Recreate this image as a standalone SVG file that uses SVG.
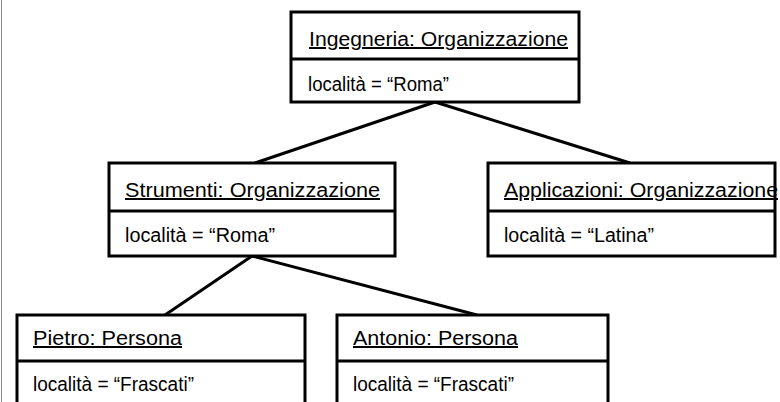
<svg xmlns="http://www.w3.org/2000/svg" width="780" height="402" viewBox="0 0 780 402">
  <style>
    .box { fill: #ffffff; stroke: #000000; stroke-width: 3; }
    .sep { stroke: #000000; stroke-width: 3; }
    .link { stroke: #000000; stroke-width: 3; fill: none; }
    .name { font-family: "Liberation Sans", Arial, sans-serif; font-size: 20px; fill: #000000; text-decoration: underline; }
    .attr { font-family: "Liberation Sans", Arial, sans-serif; font-size: 20px; fill: #000000; }
  </style>

  <rect x="0" y="0" width="780" height="402" fill="#ffffff"/>
  <!-- page frame edge -->
  <line x1="1.5" y1="0" x2="1.5" y2="402" stroke="#8c8c8c" stroke-width="1"/>

  <!-- object links -->
  <g id="connectors">
    <line class="link" x1="435" y1="102" x2="255" y2="163"/>
    <line class="link" x1="435" y1="102" x2="630" y2="163"/>
    <line class="link" x1="252" y1="256" x2="165" y2="315"/>
    <line class="link" x1="252" y1="256" x2="477" y2="315"/>
  </g>

  <g id="ingegneria">
    <rect class="box" x="291" y="12" width="288" height="90"/>
    <line class="sep" x1="291" y1="59" x2="579" y2="59"/>
    <text class="name" x="309" y="46" textLength="259" lengthAdjust="spacingAndGlyphs">Ingegneria: Organizzazione</text>
    <text class="attr" x="308" y="91" textLength="141" lengthAdjust="spacingAndGlyphs">località = “Roma”</text>
  </g>

  <g id="strumenti">
    <rect class="box" x="109" y="163" width="286" height="93"/>
    <line class="sep" x1="109" y1="211" x2="395" y2="211"/>
    <text class="name" x="125" y="197" textLength="255" lengthAdjust="spacingAndGlyphs">Strumenti: Organizzazione</text>
    <text class="attr" x="125" y="242" textLength="150" lengthAdjust="spacingAndGlyphs">località = “Roma”</text>
  </g>

  <g id="applicazioni">
    <rect class="box" x="488" y="163" width="287" height="93"/>
    <line class="sep" x1="488" y1="211" x2="775" y2="211"/>
    <text class="name" x="504" y="197" textLength="274" lengthAdjust="spacingAndGlyphs">Applicazioni: Organizzazione</text>
    <text class="attr" x="504" y="242" textLength="150" lengthAdjust="spacingAndGlyphs">località = “Latina”</text>
  </g>

  <g id="pietro">
    <rect class="box" x="17" y="315" width="288" height="110"/>
    <line class="sep" x1="17" y1="361" x2="305" y2="361"/>
    <text class="name" x="33" y="345" textLength="149" lengthAdjust="spacingAndGlyphs">Pietro: Persona</text>
    <text class="attr" x="33" y="391" textLength="161" lengthAdjust="spacingAndGlyphs">località = “Frascati”</text>
  </g>

  <g id="antonio">
    <rect class="box" x="337" y="315" width="271" height="110"/>
    <line class="sep" x1="337" y1="361" x2="608" y2="361"/>
    <text class="name" x="353" y="345" textLength="165" lengthAdjust="spacingAndGlyphs">Antonio: Persona</text>
    <text class="attr" x="353" y="391" textLength="161" lengthAdjust="spacingAndGlyphs">località = “Frascati”</text>
  </g>
</svg>
